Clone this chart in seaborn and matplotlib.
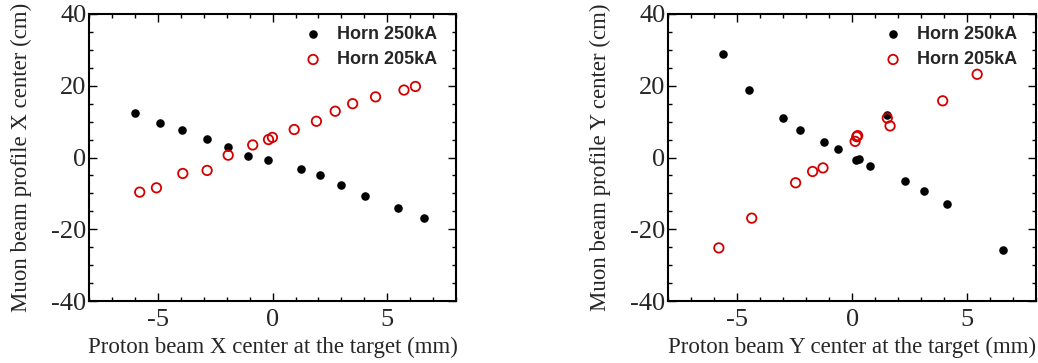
import matplotlib
matplotlib.use("Agg")
import matplotlib.pyplot as plt
import seaborn as sns
import pandas as pd
from matplotlib.ticker import MultipleLocator

# Proton beam X centre (mm) vs muon beam profile X centre (cm)
x250_px = [-6.02, -4.92, -3.96, -2.85, -1.95, -1.09, -0.19, 1.23, 2.06, 3.00, 4.01, 5.48, 6.59]
x250_mu = [12.3, 9.5, 7.8, 5.1, 3.0, 0.55, -0.8, -3.3, -5.0, -7.7, -10.6, -14.0, -17.0]
x205_px = [-5.80, -5.07, -3.92, -2.86, -1.94, -0.87, -0.18, -0.01, 0.94, 1.91, 2.73, 3.49, 4.49, 5.73, 6.23]
x205_mu = [-9.65, -8.45, -4.45, -3.6, 0.65, 3.5, 5.0, 5.6, 7.8, 10.1, 12.9, 15.0, 16.9, 18.8, 19.8]

# Proton beam Y centre (mm) vs muon beam profile Y centre (cm)
y250_px = [-5.63, -4.50, -3.02, -2.27, -1.21, -0.61, 0.15, 0.29, 0.76, 1.52, 2.30, 3.12, 4.13, 6.56]
y250_mu = [28.9, 18.8, 10.9, 7.8, 4.45, 2.5, -0.65, -0.55, -2.4, 11.9, -6.6, -9.2, -13.0, -25.7]
y205_px = [-5.80, -4.37, -2.46, -1.72, -1.27, 0.13, 0.20, 0.24, 1.53, 1.65, 3.94, 5.44]
y205_mu = [-25.2, -16.9, -7.05, -3.9, -2.9, 4.5, 5.8, 6.1, 11.0, 8.8, 15.8, 23.2]

labels = ["Horn 250kA", "Horn 205kA"]
xlabels = ["Proton beam X center at the target (mm)", "Proton beam Y center at the target (mm)"]
ylabels = ["Muon beam profile X center (cm)", "Muon beam profile Y center (cm)"]

sns.set_style("ticks")
plt.rcParams["axes.unicode_minus"] = False
plt.rcParams["font.family"] = ["Liberation Serif", "DejaVu Serif"]

RED = "#d40000"
fig = plt.figure(figsize=(10.38, 3.63), dpi=100)
W, H = 1038, 363
ax1 = fig.add_axes([89.3 / W, 62 / H, 366.7 / W, 287 / H])
ax2 = fig.add_axes([668.3 / W, 62 / H, 367.7 / W, 287 / H])

panels = [
    (ax1, x250_px, x250_mu, x205_px, x205_mu),
    (ax2, y250_px, y250_mu, y205_px, y205_mu),
]

for i, (ax, bx, by, rx, ry) in enumerate(panels):
    d250 = pd.DataFrame({"x": bx, "y": by})
    d205 = pd.DataFrame({"x": rx, "y": ry})
    sns.scatterplot(data=d250, x="x", y="y", ax=ax, color="black", s=38,
                    linewidth=0, label=labels[0], zorder=3)
    sns.scatterplot(data=d205, x="x", y="y", ax=ax, facecolor="none",
                    edgecolor=RED, s=46, linewidth=1.3, label=labels[1], zorder=4)
    ax.set_xlim(-8, 8)
    ax.set_ylim(-40, 40)
    ax.xaxis.set_major_locator(MultipleLocator(5))
    ax.xaxis.set_minor_locator(MultipleLocator(1))
    ax.yaxis.set_major_locator(MultipleLocator(20))
    ax.yaxis.set_minor_locator(MultipleLocator(5))
    ax.tick_params(which="both", direction="in", top=True, right=True,
                   width=1.0, color="black")
    ax.tick_params(which="major", length=6, labelsize=19)
    ax.tick_params(axis="x", which="major", pad=6)
    ax.tick_params(axis="y", which="major", pad=2)
    ax.tick_params(which="minor", length=3)
    for sp in ax.spines.values():
        sp.set_visible(True)
        sp.set_linewidth(1.5)
        sp.set_color("black")
    ax.set_xlabel(xlabels[i], fontsize=16.5, labelpad=4)
    ax.set_ylabel(ylabels[i], fontsize=16.5, labelpad=14)
    leg = ax.legend(loc="upper right", bbox_to_anchor=(0.967, 0.983),
                    frameon=False,
                    prop={"family": "Liberation Sans", "weight": "bold", "size": 13},
                    handletextpad=0.7, borderaxespad=0.0, labelspacing=0.45,
                    handlelength=1.2, markerscale=1.0)

fig.savefig("out.png", dpi=100)
